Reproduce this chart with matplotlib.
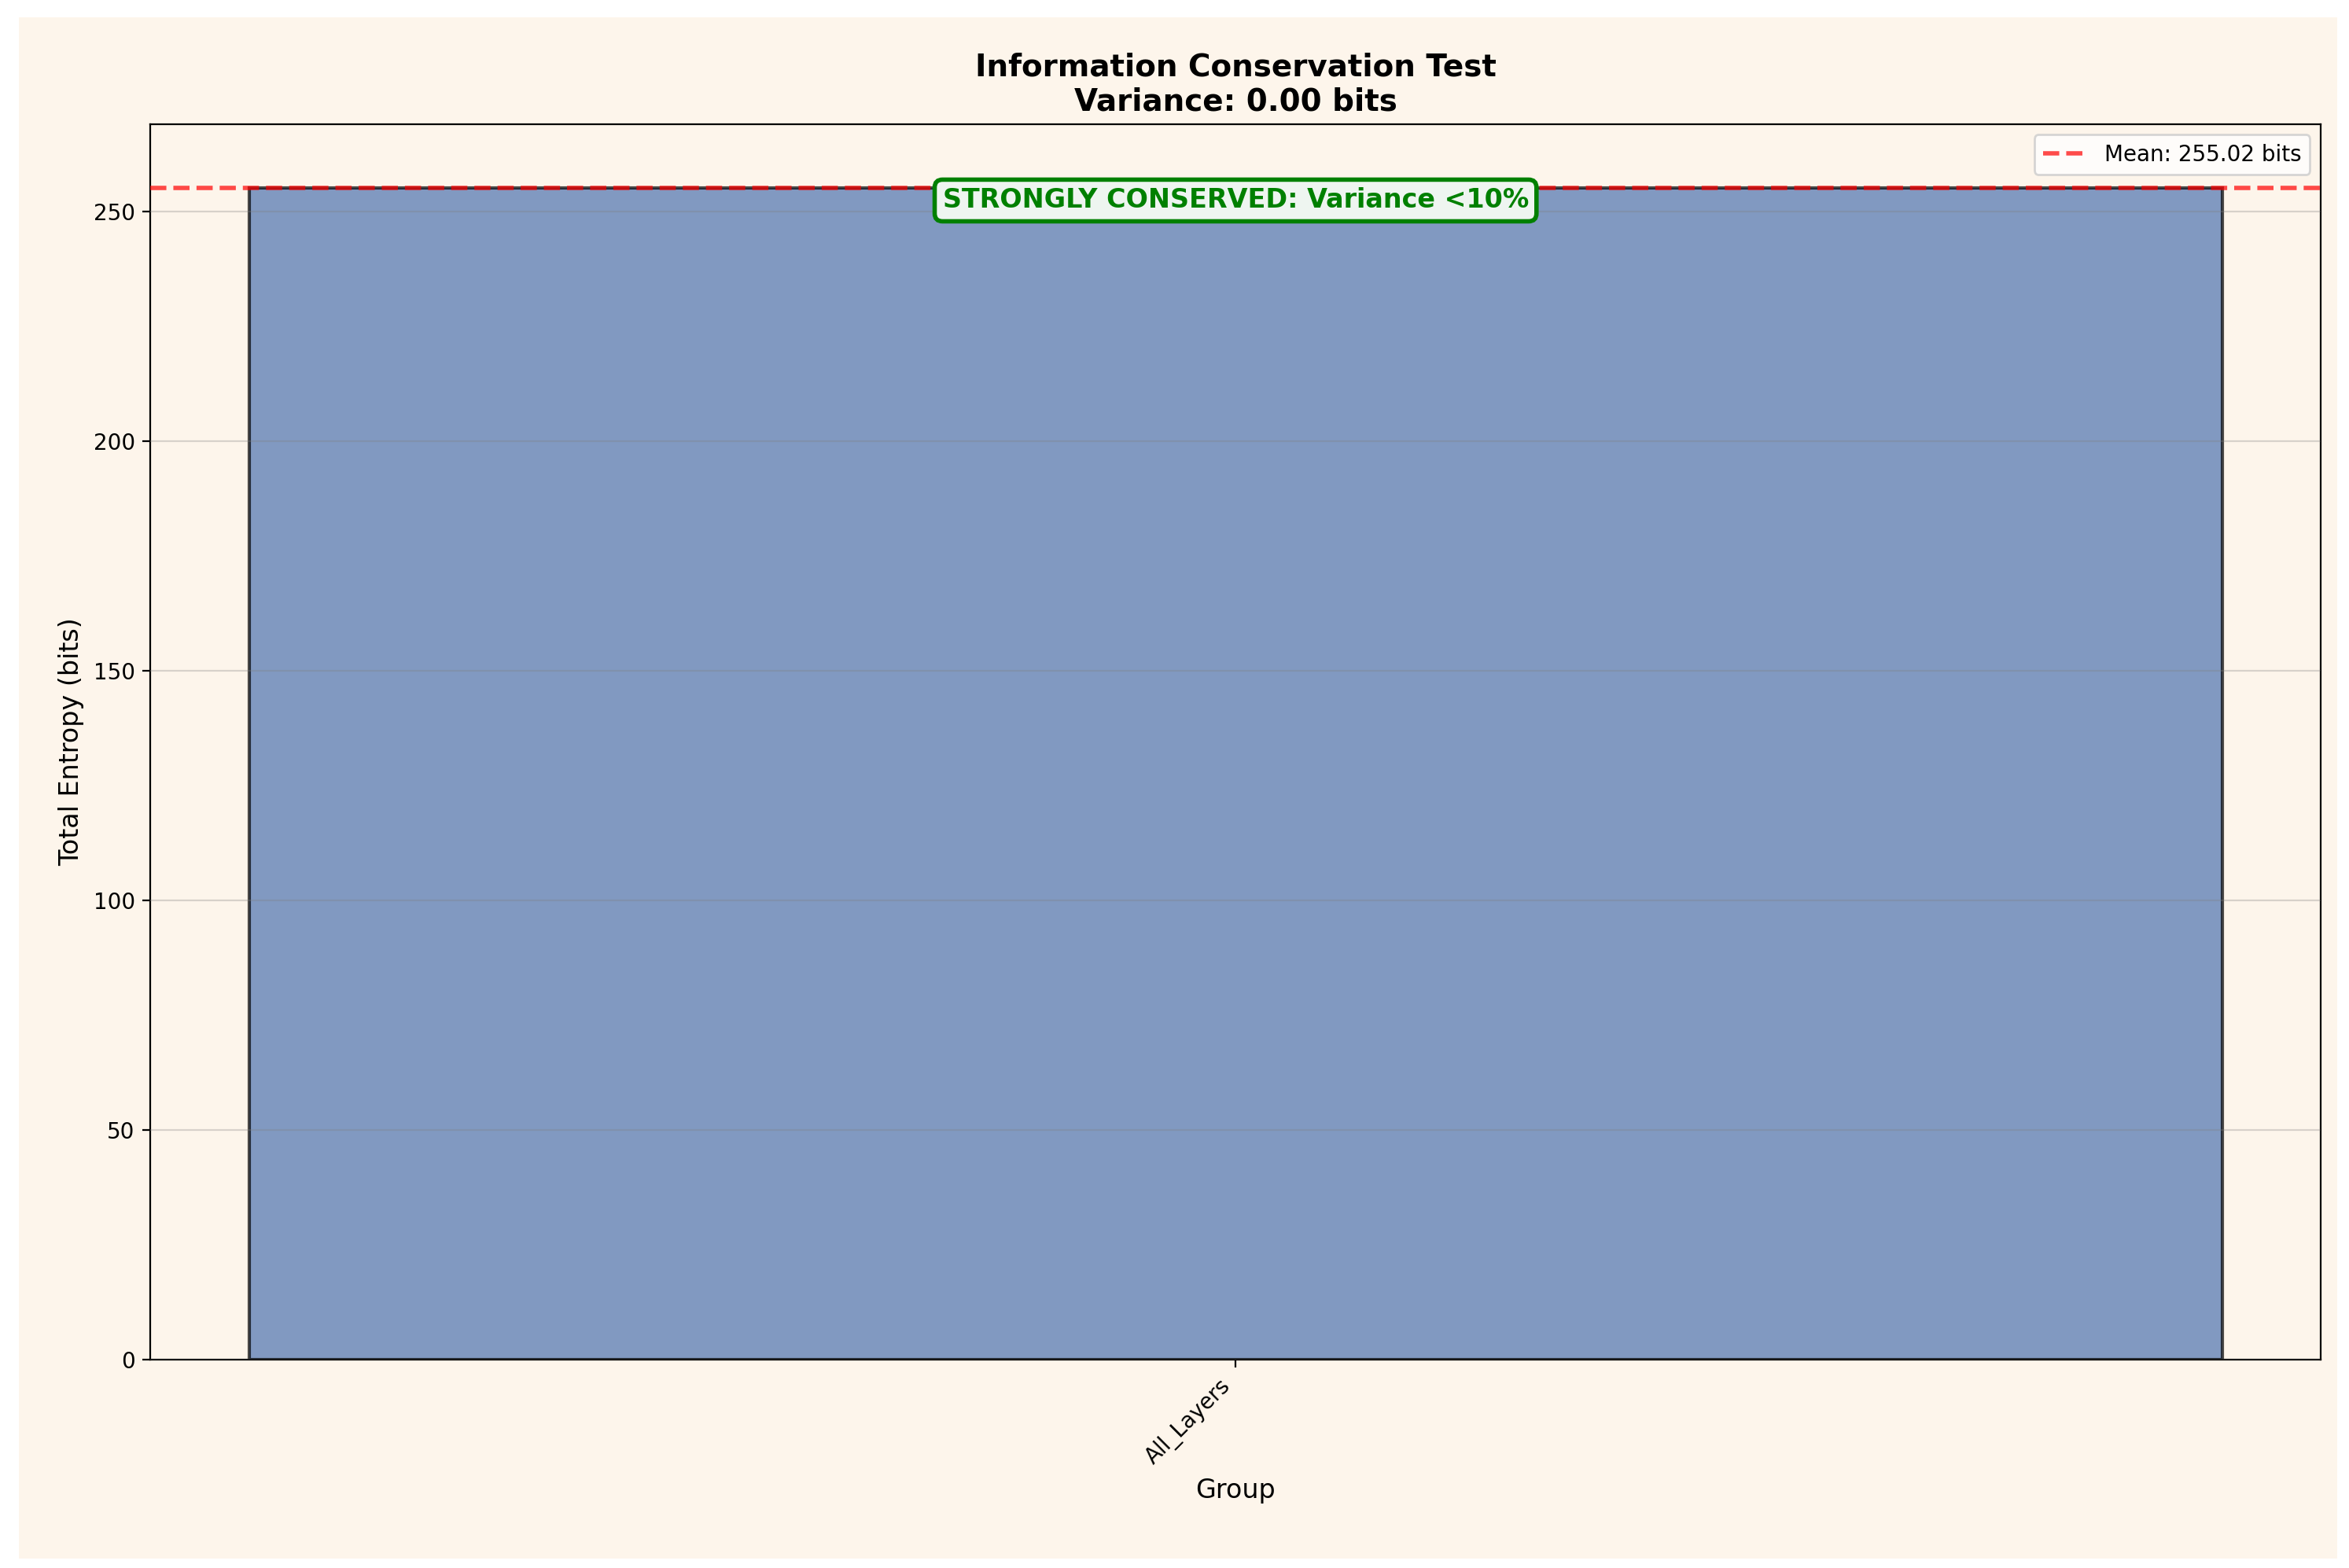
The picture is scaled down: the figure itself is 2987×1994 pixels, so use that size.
import matplotlib
matplotlib.use("Agg")
import matplotlib.pyplot as plt
from matplotlib.patches import Rectangle

groups = ["All_Layers"]
entropy = [255.02]
mean_val = 255.02
variance = 0.00

bg = "#fdf5eb"
fig = plt.figure(figsize=(14.935, 9.97), dpi=200, facecolor="white")
fig.patches.append(Rectangle((0.008, 0.006), 0.987, 0.983, transform=fig.transFigure,
                             facecolor=bg, edgecolor="none", zorder=-10))
ax = fig.add_axes([0.064, 0.133, 0.924, 0.788])
ax.set_facecolor(bg)
ax.bar(groups, entropy, width=0.8, color="#4C72B0", alpha=0.7, edgecolor="black", linewidth=1.5, zorder=2)
ax.axhline(mean_val, color="red", linestyle="--", linewidth=2, alpha=0.7,
           label=f"Mean: {mean_val:.2f} bits", zorder=3)
ax.set_xlim(-0.44, 0.44)
ax.set_ylim(0, 269)
ax.grid(axis="y", alpha=0.3, color="gray", zorder=0)
ax.set_axisbelow(False)
ax.set_title(f"Information Conservation Test\nVariance: {variance:.2f} bits",
             fontsize=14, fontweight="bold")
ax.set_xlabel("Group", fontsize=12)
ax.set_ylabel("Total Entropy (bits)", fontsize=12)
plt.setp(ax.get_xticklabels(), rotation=45, ha="right")
ax.legend(loc="upper right", fontsize=10)
ax.text(0.5, 0.938, "STRONGLY CONSERVED: Variance <10%", transform=ax.transAxes,
        ha="center", va="center", fontsize=12, fontweight="bold", color="green",
        bbox=dict(boxstyle="round,pad=0.3", facecolor="#eef5f0", edgecolor="green", linewidth=2),
        zorder=5)
fig.savefig("out.png", dpi=200, facecolor="white")
